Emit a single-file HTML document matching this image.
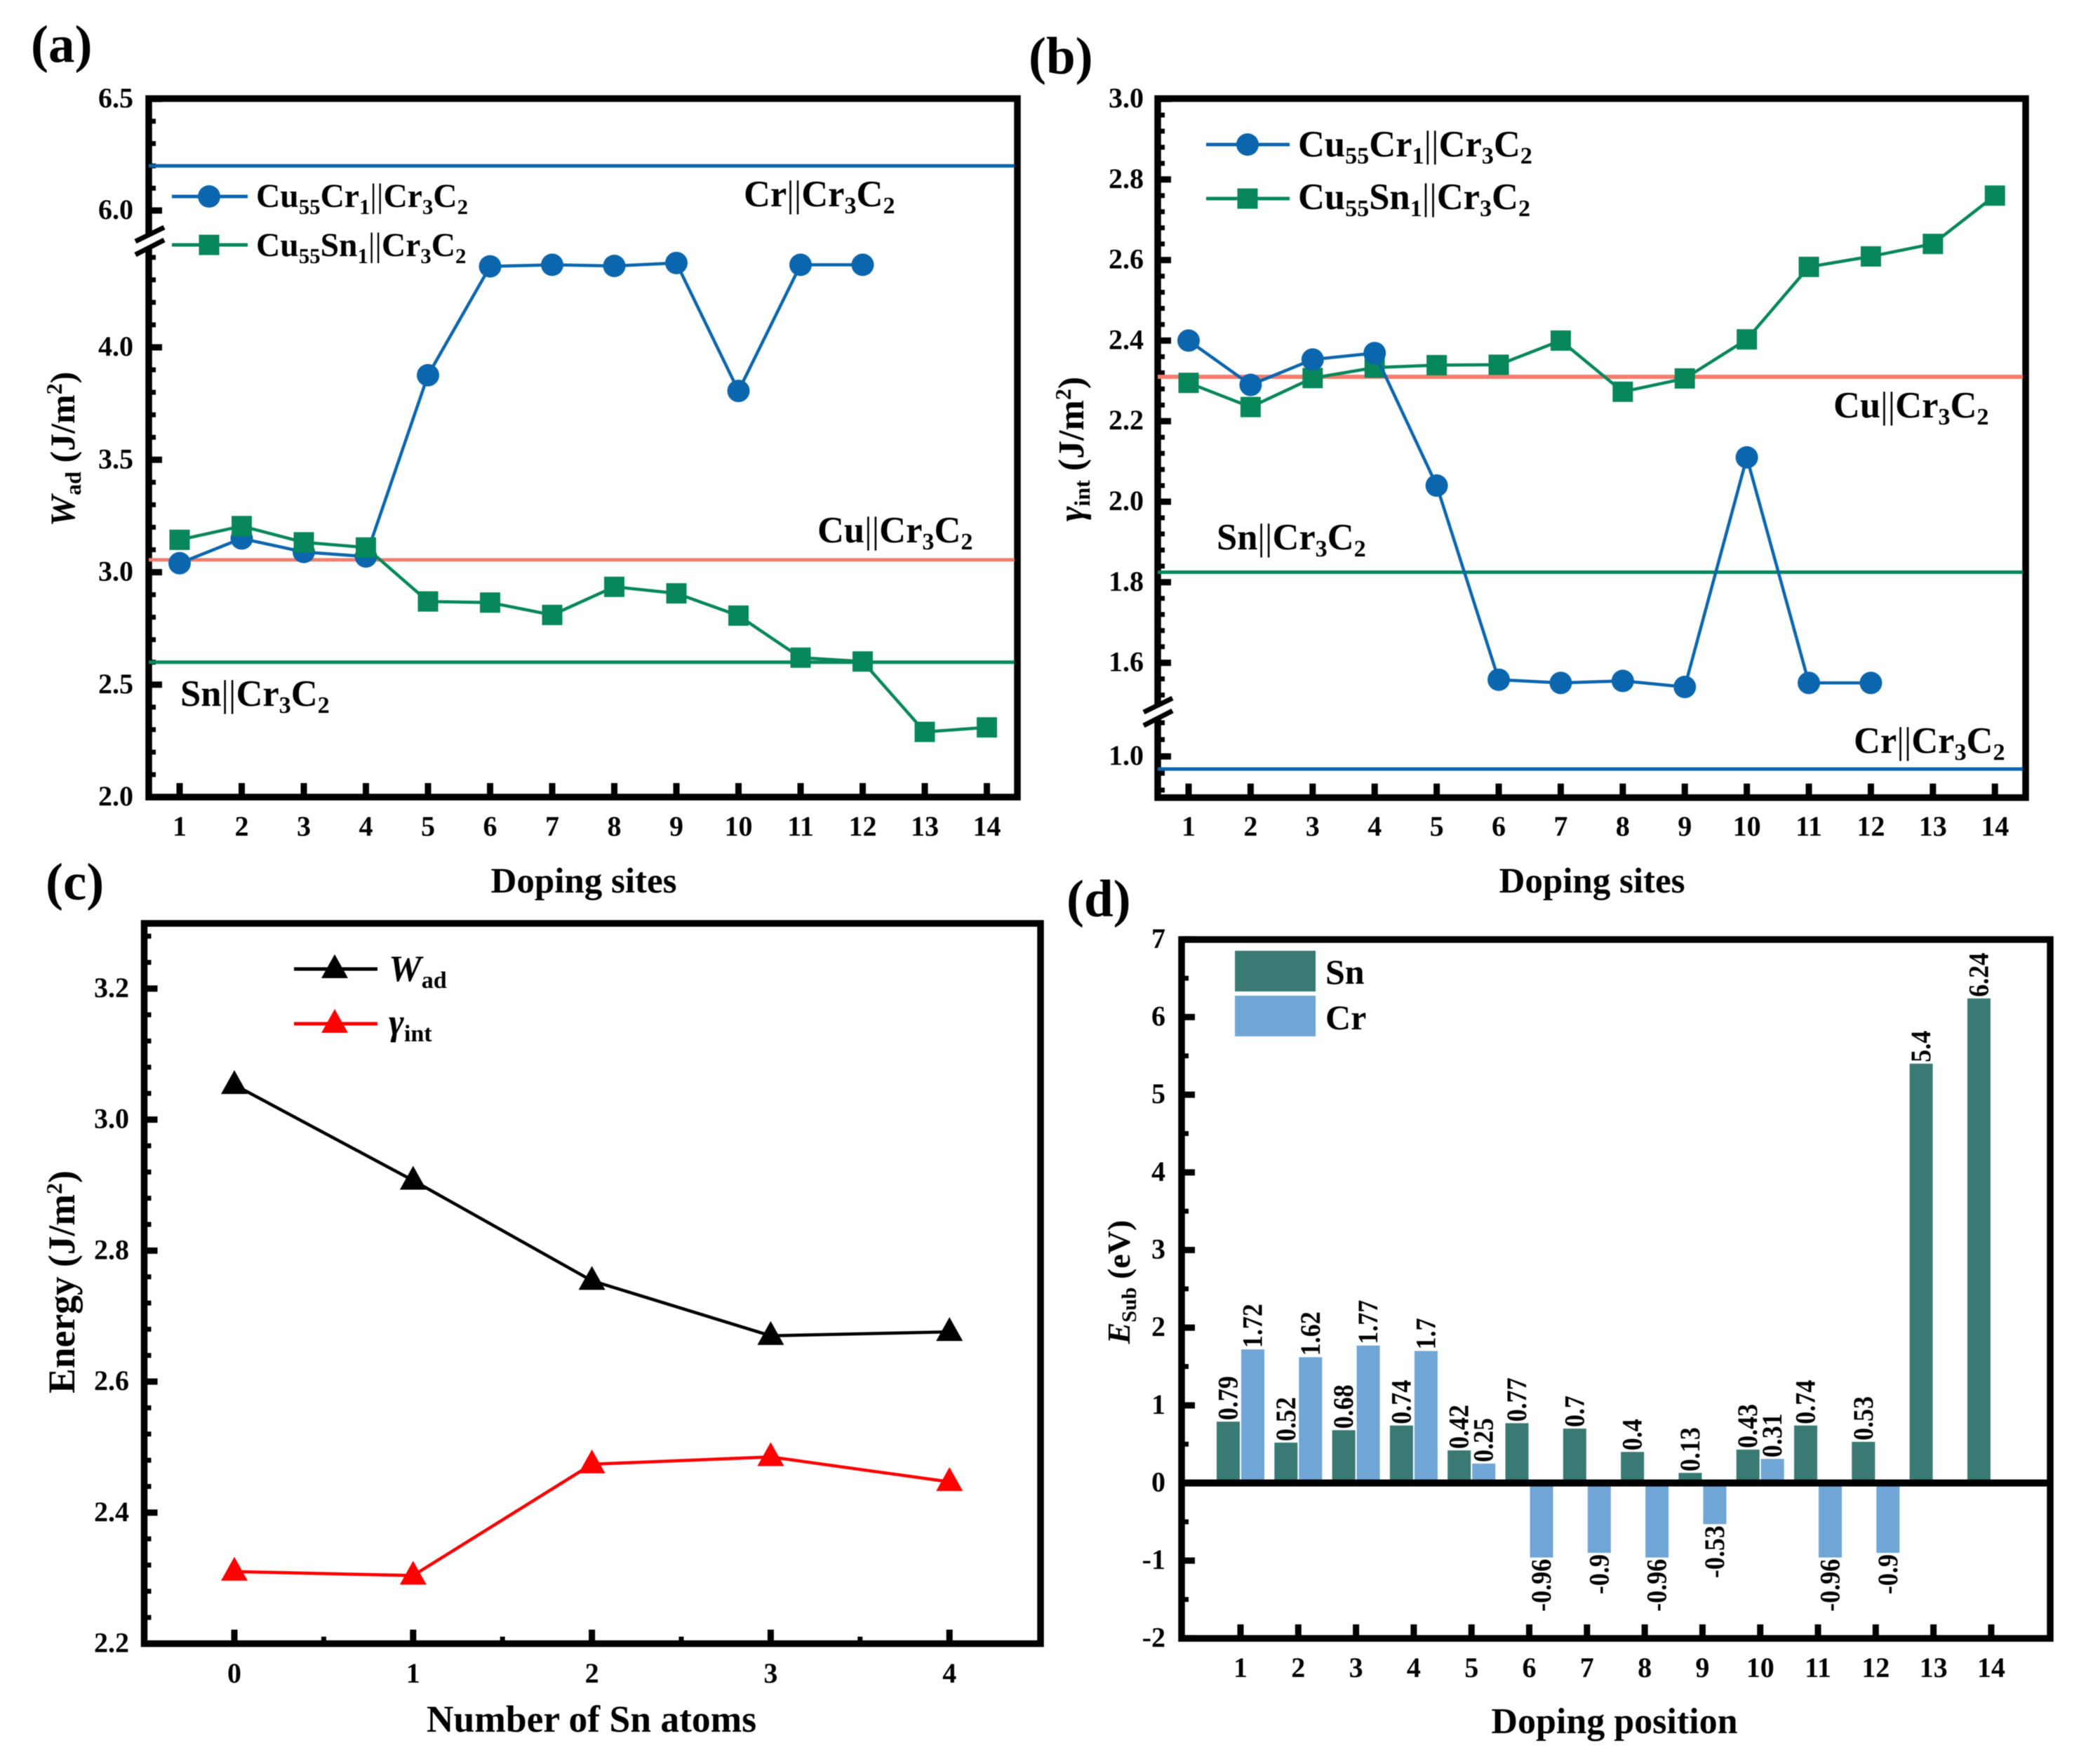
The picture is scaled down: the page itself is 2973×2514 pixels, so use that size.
<!DOCTYPE html>
<html lang="en">
<head>
<meta charset="utf-8">
<title>Cu Cr3C2 interface charts</title>
<style>
html,body{margin:0;padding:0;background:#fff;}
svg{display:block;filter:blur(0.6px);}
text{font-family:"Liberation Serif",serif;font-weight:bold;fill:#000;}
.tick{font-size:40px;}
.title{font-size:52px;}
.leg{font-size:47.5px;}
.big{font-size:52.5px;}
.panel{font-size:75px;}
.bar-label{font-size:36px;}
.reg{font-weight:normal;}
.it{font-style:italic;}
.sub{font-size:65%;}
</style>
</head>
<body>
<svg id="fig" xmlns="http://www.w3.org/2000/svg" width="2973" height="2514" viewBox="0 0 2973 2514">
<rect x="0" y="0" width="2973" height="2514" fill="#fff"/>

<text class="panel" x="44" y="88">(a)</text>
<text class="panel" x="1466" y="105">(b)</text>
<text class="panel" x="65" y="1282">(c)</text>
<text class="panel" x="1520" y="1306">(d)</text>

<g id="pa"></g>
<g id="pb"></g>
<g id="pc"></g>
<g id="pd"></g>

<!-- axis titles -->
<text class="title" x="832" y="1272" text-anchor="middle" style="font-size:51px">Doping sites</text>
<text class="title" x="2269" y="1272" text-anchor="middle" style="font-size:51px">Doping sites</text>
<text class="title" x="843" y="2468" text-anchor="middle" style="font-size:53.5px">Number of Sn atoms</text>
<text class="title" x="2301" y="2470" text-anchor="middle">Doping position</text>

<text class="title" transform="translate(106,640) rotate(-90)" text-anchor="middle" style="font-size:50px"><tspan class="it">W</tspan><tspan dy="9" font-size="32">ad</tspan><tspan dy="-9"> (J/m</tspan><tspan dy="-18" font-size="32">2</tspan><tspan dy="18">)</tspan></text>
<text class="title" transform="translate(1544,640) rotate(-90)" text-anchor="middle"><tspan class="it">γ</tspan><tspan dy="9" font-size="32">int</tspan><tspan dy="-9"> (J/m</tspan><tspan dy="-18" font-size="32">2</tspan><tspan dy="18">)</tspan></text>
<text class="title" transform="translate(106,1827) rotate(-90)" text-anchor="middle" style="font-size:53.5px">Energy (J/m<tspan dy="-18" font-size="32">2</tspan><tspan dy="18">)</tspan></text>
<text class="title" transform="translate(1610,1827) rotate(-90)" text-anchor="middle" style="font-size:46px"><tspan class="it">E</tspan><tspan dy="9" font-size="30">Sub</tspan><tspan dy="-9"> (eV)</tspan></text>

<!-- panel a legend text and reference labels -->
<text class="leg" x="365" y="295">Cu<tspan dy="10" class="sub">55</tspan><tspan dy="-10">Cr</tspan><tspan dy="10" class="sub">1</tspan><tspan dy="-10" class="reg">||</tspan>Cr<tspan dy="10" class="sub">3</tspan><tspan dy="-10">C</tspan><tspan dy="10" class="sub">2</tspan></text>
<text class="leg" x="365" y="365">Cu<tspan dy="10" class="sub">55</tspan><tspan dy="-10">Sn</tspan><tspan dy="10" class="sub">1</tspan><tspan dy="-10" class="reg">||</tspan>Cr<tspan dy="10" class="sub">3</tspan><tspan dy="-10">C</tspan><tspan dy="10" class="sub">2</tspan></text>
<text class="big" x="1060" y="294">Cr<tspan class="reg">||</tspan>Cr<tspan dy="10" class="sub">3</tspan><tspan dy="-10">C</tspan><tspan dy="10" class="sub">2</tspan></text>
<text class="big" x="1165" y="773">Cu<tspan class="reg">||</tspan>Cr<tspan dy="10" class="sub">3</tspan><tspan dy="-10">C</tspan><tspan dy="10" class="sub">2</tspan></text>
<text class="big" x="257" y="1006">Sn<tspan class="reg">||</tspan>Cr<tspan dy="10" class="sub">3</tspan><tspan dy="-10">C</tspan><tspan dy="10" class="sub">2</tspan></text>

<!-- panel b legend text and reference labels -->
<text class="big" x="1850" y="223">Cu<tspan dy="10" class="sub">55</tspan><tspan dy="-10">Cr</tspan><tspan dy="10" class="sub">1</tspan><tspan dy="-10" class="reg">||</tspan>Cr<tspan dy="10" class="sub">3</tspan><tspan dy="-10">C</tspan><tspan dy="10" class="sub">2</tspan></text>
<text class="big" x="1850" y="298">Cu<tspan dy="10" class="sub">55</tspan><tspan dy="-10">Sn</tspan><tspan dy="10" class="sub">1</tspan><tspan dy="-10" class="reg">||</tspan>Cr<tspan dy="10" class="sub">3</tspan><tspan dy="-10">C</tspan><tspan dy="10" class="sub">2</tspan></text>
<text class="big" x="2613" y="595">Cu<tspan class="reg">||</tspan>Cr<tspan dy="10" class="sub">3</tspan><tspan dy="-10">C</tspan><tspan dy="10" class="sub">2</tspan></text>
<text class="big" x="1734" y="783">Sn<tspan class="reg">||</tspan>Cr<tspan dy="10" class="sub">3</tspan><tspan dy="-10">C</tspan><tspan dy="10" class="sub">2</tspan></text>
<text class="big" x="2642" y="1073">Cr<tspan class="reg">||</tspan>Cr<tspan dy="10" class="sub">3</tspan><tspan dy="-10">C</tspan><tspan dy="10" class="sub">2</tspan></text>

<!-- panel c legend text -->
<text class="big" x="554" y="1398"><tspan class="it">W</tspan><tspan dy="10" class="sub">ad</tspan></text>
<text class="big" x="554" y="1474"><tspan class="it">γ</tspan><tspan dy="10" class="sub">int</tspan></text>

<!-- panel d legend -->
<rect x="1760" y="1355" width="115" height="58" fill="#3a7a74"/>
<rect x="1760" y="1419" width="115" height="58" fill="#6fa6d6"/>
<text class="big" x="1889" y="1402" style="font-size:50px">Sn</text>
<text class="big" x="1889" y="1467" style="font-size:50px">Cr</text>
</svg>

<script>
// ---------- chart data ----------
const sites = [1,2,3,4,5,6,7,8,9,10,11,12,13,14];

const wadCr = [3.04,3.15,3.09,3.07,3.876,4.36,4.367,4.362,4.375,3.806,4.367,4.367];
const wadSn = [3.144,3.205,3.133,3.11,2.87,2.865,2.81,2.935,2.906,2.807,2.62,2.603,2.29,2.31];
const wadRefCr = 6.2;
const wadRefCu = 3.055;
const wadRefSn = 2.6;
const wadTicks = [2,2.5,3,3.5,4,6,6.5];

const gamCr = [2.40,2.29,2.353,2.369,2.04,1.558,1.55,1.555,1.54,2.11,1.55,1.55];
const gamSn = [2.295,2.235,2.307,2.333,2.339,2.34,2.40,2.273,2.306,2.403,2.583,2.609,2.64,2.76];
const gamRefCu = 2.31;
const gamRefSn = 1.825;
const gamRefCr = 0.97;
const gamTicks = [1,1.6,1.8,2,2.2,2.4,2.6,2.8,3];

const snAtoms = [0,1,2,3,4];
const energyWad = [3.053,2.907,2.754,2.67,2.676];
const energyGamma = [2.31,2.304,2.474,2.485,2.447];
const energyTicks = [2.2,2.4,2.6,2.8,3,3.2];

const positions = [1,2,3,4,5,6,7,8,9,10,11,12,13,14];
const subSn = [0.79,0.52,0.68,0.74,0.42,0.77,0.7,0.4,0.13,0.43,0.74,0.53,5.4,6.24];
const subCr = [1.72,1.62,1.77,1.7,0.25,-0.96,-0.9,-0.96,-0.53,0.31,-0.96,-0.9];
const subTicks = [-2,-1,0,1,2,3,4,5,6,7];

// ---------- axis functions ----------
function xA(v){ return 256 + (v-1)*88.5; }
function yA(v){ return v > 5 ? 300 - (v-6)*318 : 495 + (4-v)*320.5; }
function xB(v){ return 1694 + (v-1)*88.4; }
function yB(v){ return v > 1.3 ? 141 + (3-v)*574 : 1078 + (1-v)*600; }
function xC(v){ return 334 + v*254.8; }
function yC(v){ return 2342.5 - (v-2.2)*933.6; }
function xD(v){ return 1768 + (v-1)*82.3; }
function yD(v){ return 2113.5 - v*110.67; }

// ---------- drawing helpers ----------
const NS = 'http://www.w3.org/2000/svg';
const BLUE = '#0b66ae', GREEN = '#07875a', CORAL = '#f47c6c';

function mk(parent, tag, attrs, name){
  const el = document.createElementNS(NS, tag);
  for (const k in attrs) el.setAttribute(k, attrs[k]);
  
  
  parent.appendChild(el);
  return el;
}
function line(p, x1, y1, x2, y2, color, w, name){
  return mk(p, 'line', {x1:x1, y1:y1, x2:x2, y2:y2, stroke:color, 'stroke-width':w}, name);
}
function label(p, x, y, txt, anchor, cls, name){
  const t = mk(p, 'text', {x:x, y:y, 'text-anchor':anchor, class:cls}, name);
  t.textContent = txt;
  return t;
}
function poly(p, xs, vals, xf, yf, color, w, name){
  const pts = vals.map((v,i) => xf(xs[i]).toFixed(1) + ',' + yf(v).toFixed(1)).join(' ');
  return mk(p, 'polyline', {points:pts, fill:'none', stroke:color, 'stroke-width':w, 'stroke-linejoin':'round'}, name);
}
function circle(p, x, y, color, name){
  return mk(p, 'circle', {cx:x, cy:y, r:16, fill:color}, name);
}
function square(p, x, y, color, name){
  return mk(p, 'rect', {x:x-14.5, y:y-14.5, width:29, height:29, fill:color}, name);
}
function triangle(p, x, y, color, name){
  return mk(p, 'polygon', {points:(x-19)+','+(y+13)+' '+(x+19)+','+(y+13)+' '+x+','+(y-21), fill:color}, name);
}
function frame(p, l, t, r, b, name){
  return mk(p, 'rect', {x:l, y:t, width:r-l, height:b-t, fill:'none', stroke:'#000', 'stroke-width':9.5}, name);
}
function minorY(p, left, yf, from, to, step, name){
  const n = Math.round((to-from)/step);
  for (let i = 0; i <= n; i++){
    const y = yf(from + i*step);
    line(p, left, y, left+10, y, '#000', 7, name);
  }
}
function majorY(p, left, yf, vals, digits, labelEnd, name){
  vals.forEach(v => {
    const y = yf(v);
    line(p, left, y, left+19, y, '#000', 9, name + '-tick');
    const txt = digits ? v.toFixed(digits) : String(v);
    label(p, labelEnd, y+12, txt, 'end', 'tick', name + '-label');
  });
}
function majorX(p, vals, xf, bottom, labelY, name){
  vals.forEach(v => {
    const x = xf(v);
    line(p, x, bottom, x, bottom-20, '#000', 9, name + '-tick');
    label(p, x, labelY, String(v), 'middle', 'tick', name + '-label');
  });
}
function axisBreak(p, x, yTop, name){
  mk(p, 'polygon', {points:(x-20)+','+(yTop+24)+' '+(x+21)+','+(yTop+3)+' '+(x+21)+','+(yTop+18)+' '+(x-20)+','+(yTop+39), fill:'#fff'}, name + '-gap');
  line(p, x-20, yTop+20, x+21, yTop, '#000', 7, name + '-stroke');
  line(p, x-20, yTop+39, x+21, yTop+18, '#000', 7, name + '-stroke');
}

// ---------- panel (a) ----------
(function(){
  const p = document.getElementById('pa');
  const L = 212, R = 1450, T = 140.5, B = 1136;
  frame(p, L, T, R, B, 'panel-a-plot-frame');
  minorY(p, L, yA, 2, 4.4, 0.1, 'panel-a-y-minor-tick');
  minorY(p, L, yA, 6, 6.4, 0.1, 'panel-a-y-minor-tick');
  majorY(p, L, yA, wadTicks, 1, 190, 'panel-a-y');
  majorX(p, sites, xA, B, 1191, 'panel-a-x');
  axisBreak(p, 213, 324, 'panel-a-axis-break');
  line(p, L, yA(wadRefCr), R-4, yA(wadRefCr), BLUE, 5, 'panel-a-cr-reference-line');
  line(p, L, yA(wadRefCu), R-4, yA(wadRefCu), CORAL, 5, 'panel-a-cu-reference-line');
  line(p, L, yA(wadRefSn), R-4, yA(wadRefSn), GREEN, 5, 'panel-a-sn-reference-line');
  poly(p, sites, wadCr, xA, yA, BLUE, 4.5, 'panel-a-cr-series-line');
  wadCr.forEach((v,i) => circle(p, xA(sites[i]), yA(v), BLUE, 'panel-a-cr-point'));
  poly(p, sites, wadSn, xA, yA, GREEN, 4.5, 'panel-a-sn-series-line');
  wadSn.forEach((v,i) => square(p, xA(sites[i]), yA(v), GREEN, 'panel-a-sn-point'));
  line(p, 245, 280, 353, 280, BLUE, 5, 'panel-a-legend-cr-line');
  circle(p, 298, 280, BLUE, 'panel-a-legend-cr-marker');
  line(p, 245, 349, 353, 349, GREEN, 5, 'panel-a-legend-sn-line');
  square(p, 298, 349, GREEN, 'panel-a-legend-sn-marker');
})();

// ---------- panel (b) ----------
(function(){
  const p = document.getElementById('pb');
  const L = 1650, R = 2887, T = 140.5, B = 1136.7;
  frame(p, L, T, R, B, 'panel-b-plot-frame');
  minorY(p, L, yB, 1.52, 3, 0.04, 'panel-b-y-minor-tick');
  minorY(p, L, yB, 0.92, 1.08, 0.04, 'panel-b-y-minor-tick');
  majorY(p, L, yB, gamTicks, 1, 1630, 'panel-b-y');
  majorX(p, sites, xB, B, 1191, 'panel-b-x');
  axisBreak(p, 1650, 995, 'panel-b-axis-break');
  line(p, L, yB(gamRefCu), R-4, yB(gamRefCu), CORAL, 6, 'panel-b-cu-reference-line');
  line(p, L, yB(gamRefSn), R-4, yB(gamRefSn), GREEN, 5, 'panel-b-sn-reference-line');
  line(p, L, yB(gamRefCr), R-4, yB(gamRefCr), BLUE, 5, 'panel-b-cr-reference-line');
  poly(p, sites, gamSn, xB, yB, GREEN, 4.5, 'panel-b-sn-series-line');
  gamSn.forEach((v,i) => square(p, xB(sites[i]), yB(v), GREEN, 'panel-b-sn-point'));
  poly(p, sites, gamCr, xB, yB, BLUE, 4.5, 'panel-b-cr-series-line');
  gamCr.forEach((v,i) => circle(p, xB(sites[i]), yB(v), BLUE, 'panel-b-cr-point'));
  line(p, 1719, 206, 1838, 206, BLUE, 5, 'panel-b-legend-cr-line');
  circle(p, 1778, 206, BLUE, 'panel-b-legend-cr-marker');
  line(p, 1719, 283, 1838, 283, GREEN, 5, 'panel-b-legend-sn-line');
  square(p, 1778, 283, GREEN, 'panel-b-legend-sn-marker');
})();

// ---------- panel (c) ----------
(function(){
  const p = document.getElementById('pc');
  const L = 205.5, R = 1483, T = 1316, B = 2342.5;
  frame(p, L, T, R, B, 'panel-c-plot-frame');
  minorY(p, L, yC, 2.2, 3.28, 0.04, 'panel-c-y-minor-tick');
  majorY(p, L, yC, energyTicks, 1, 184, 'panel-c-y');
  majorX(p, snAtoms, xC, B, 2398, 'panel-c-x');
  snAtoms.slice(0,4).forEach(v => {
    const x = xC(v + 0.5);
    line(p, x, B, x, B-10, '#000', 7, 'panel-c-x-minor-tick');
  });
  poly(p, snAtoms, energyWad, xC, yC, '#000', 4.5, 'panel-c-wad-series-line');
  energyWad.forEach((v,i) => triangle(p, xC(snAtoms[i]), yC(v), '#000', 'panel-c-wad-point'));
  poly(p, snAtoms, energyGamma, xC, yC, '#f00', 4.5, 'panel-c-gamma-series-line');
  energyGamma.forEach((v,i) => triangle(p, xC(snAtoms[i]), yC(v), '#f00', 'panel-c-gamma-point'));
  line(p, 419, 1381, 538, 1381, '#000', 5, 'panel-c-legend-wad-line');
  triangle(p, 477, 1381, '#000', 'panel-c-legend-wad-marker');
  line(p, 419, 1459, 538, 1459, '#f00', 5, 'panel-c-legend-gamma-line');
  triangle(p, 477, 1459, '#f00', 'panel-c-legend-gamma-marker');
})();

// ---------- panel (d) ----------
(function(){
  const p = document.getElementById('pd');
  const L = 1684, R = 2922, T = 1339, B = 2335;
  const SN = '#3a7a74', CR = '#6fa6d6';
  function bar(center, v, offset, color, name){
    const y0 = yD(0), y1 = yD(v);
    mk(p, 'rect', {x:center+offset, y:Math.min(y0,y1), width:33, height:Math.abs(y1-y0), fill:color}, name);
    const lx = center + offset + 16.5;
    const ly = v >= 0 ? y1 - 2 : y1 + 2;
    const t = mk(p, 'text', {x:0, y:0, 'text-anchor': v >= 0 ? 'start' : 'end', class:'bar-label', transform:'translate('+(lx+13)+','+ly+') rotate(-90) scale(1,1.12)'}, name + '-value');
    t.textContent = String(v);
  }
  subSn.forEach((v,i) => bar(xD(positions[i]), v, -34, SN, 'sn-bar'));
  subCr.forEach((v,i) => bar(xD(positions[i]), v, 1, CR, 'cr-bar'));
  frame(p, L, T, R, B, 'panel-d-plot-frame');
  line(p, L, yD(0), R, yD(0), '#000', 10, 'panel-d-zero-line');
  for (let v = -1.5; v < 7; v += 1){
    line(p, L, yD(v), L+10, yD(v), '#000', 7, 'panel-d-y-minor-tick');
  }
  majorY(p, L, yD, subTicks, 0, 1661, 'panel-d-y');
  majorX(p, positions, xD, B, 2390, 'panel-d-x');
})();
</script>
</body>
</html>
